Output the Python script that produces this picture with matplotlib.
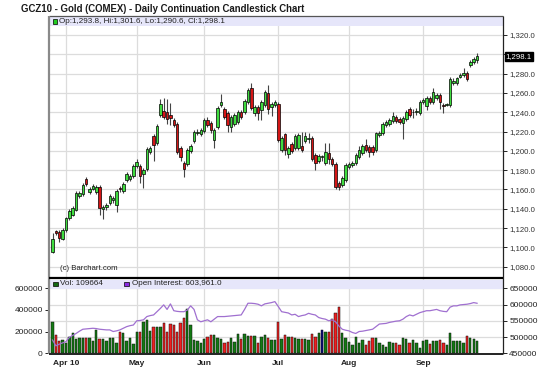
import matplotlib
matplotlib.use('Agg')
import matplotlib.pyplot as plt
from matplotlib.patches import Rectangle
import matplotlib.transforms as mtrans

plt.rcParams['font.family'] = ['Liberation Sans', 'DejaVu Sans']

# ---------------- data ----------------
opens = [1095, 1117, 1116, 1109, 1118, 1130, 1134, 1139, 1153, 1155,
         1171, 1157, 1160, 1157, 1163, 1140, 1142, 1146, 1149, 1144,
         1162, 1158, 1170, 1171, 1174, 1184, 1184, 1176, 1181, 1199,
         1215, 1208, 1237, 1241, 1240, 1237, 1232, 1228, 1203, 1187,
         1186, 1200, 1210, 1218, 1217, 1221, 1232, 1229, 1211, 1225,
         1247, 1243, 1239, 1225, 1228, 1230, 1240, 1240, 1251, 1265,
         1239, 1245, 1242, 1247, 1260, 1245, 1247, 1249, 1201, 1217,
         1197, 1207, 1203, 1203, 1205, 1210, 1212, 1213, 1196, 1189,
         1194, 1187, 1198, 1192, 1186, 1167, 1165, 1170, 1183, 1185,
         1187, 1194, 1198, 1206, 1204, 1204, 1201, 1216, 1218, 1227,
         1228, 1231, 1235, 1233, 1229, 1233, 1243, 1240, 1240, 1239,
         1251, 1246, 1255, 1251, 1255, 1258, 1247, 1248, 1247, 1270,
         1270, 1277, 1279, 1281, 1289, 1292, 1293.8]
highs = [1115, 1118, 1118, 1120, 1132, 1140, 1143, 1158, 1158, 1167,
         1173, 1163, 1166, 1165, 1165, 1144, 1146, 1155, 1153, 1160,
         1164, 1168, 1178, 1176, 1186, 1192, 1186, 1182, 1204, 1205,
         1217, 1228, 1254, 1255, 1254, 1250, 1234, 1230, 1205, 1189,
         1203, 1207, 1222, 1223, 1224, 1234, 1235, 1231, 1224, 1246,
         1259, 1245, 1241, 1237, 1239, 1242, 1242, 1254, 1265, 1270,
         1247, 1248, 1253, 1263, 1268, 1251, 1253, 1251, 1215, 1219,
         1205, 1209, 1217, 1218, 1220, 1220, 1218, 1215, 1198, 1197,
         1196, 1208, 1208, 1194, 1188, 1169, 1174, 1187, 1188, 1190,
         1198, 1205, 1207, 1212, 1206, 1206, 1220, 1221, 1230, 1232,
         1234, 1240, 1237, 1235, 1236, 1242, 1245, 1243, 1244, 1253,
         1255, 1257, 1257, 1265, 1260, 1260, 1250, 1250, 1276, 1275,
         1277, 1281, 1286, 1283, 1294, 1297, 1301.6]
lows = [1094, 1113, 1106, 1108, 1116, 1128, 1133, 1138, 1151, 1153,
        1164, 1155, 1159, 1155, 1134, 1129, 1139, 1144, 1146, 1137,
        1157, 1156, 1168, 1169, 1172, 1182, 1167, 1162, 1179, 1197,
        1190, 1206, 1235, 1233, 1228, 1227, 1225, 1197, 1190, 1173,
        1184, 1198, 1208, 1216, 1215, 1219, 1225, 1218, 1203, 1223,
        1245, 1233, 1220, 1220, 1226, 1228, 1233, 1238, 1249, 1242,
        1236, 1232, 1232, 1245, 1238, 1236, 1245, 1209, 1199, 1196,
        1193, 1198, 1201, 1201, 1199, 1208, 1208, 1190, 1180, 1187,
        1190, 1185, 1186, 1184, 1161, 1159, 1163, 1168, 1181, 1183,
        1185, 1192, 1196, 1199, 1194, 1196, 1199, 1214, 1216, 1225,
        1226, 1229, 1229, 1228, 1212, 1231, 1235, 1234, 1237, 1237,
        1249, 1242, 1249, 1249, 1253, 1243, 1239, 1246, 1245, 1268,
        1268, 1275, 1277, 1272, 1287, 1290, 1290.6]
closes = [1109, 1115, 1110, 1118, 1130, 1138, 1141, 1156, 1156, 1165,
          1166, 1161, 1164, 1163, 1141, 1142, 1144, 1153, 1151, 1158,
          1160, 1166, 1176, 1174, 1184, 1188, 1174, 1180, 1202, 1203,
          1206, 1226, 1249, 1235, 1233, 1234, 1227, 1199, 1194, 1181,
          1201, 1205, 1220, 1220, 1222, 1232, 1227, 1222, 1222, 1244,
          1251, 1235, 1227, 1235, 1237, 1240, 1235, 1252, 1263, 1244,
          1245, 1239, 1251, 1261, 1243, 1249, 1251, 1211, 1213, 1201,
          1203, 1200, 1215, 1216, 1201, 1215, 1213, 1192, 1187, 1195,
          1194, 1199, 1192, 1186, 1163, 1163, 1172, 1185, 1186, 1187,
          1196, 1201, 1205, 1201, 1199, 1199, 1218, 1219, 1228, 1230,
          1232, 1236, 1231, 1230, 1234, 1240, 1237, 1240.5, 1241, 1251,
          1253, 1255, 1251, 1261, 1258, 1251, 1246.5, 1248.5, 1274, 1272,
          1275, 1279, 1281, 1274, 1292.5, 1295, 1298.1]
volume = [292000, 169000, 117000, 123000, 92000, 154000, 185000, 129000, 145000, 138000,
          138000, 138000, 114000, 215000, 129000, 129000, 114000, 145000, 145000, 98000,
          200000, 185000, 117000, 138000, 86000, 200000, 200000, 292000, 308000, 206000,
          240000, 240000, 240000, 283000, 200000, 268000, 262000, 200000, 283000, 330000,
          406000, 262000, 123000, 117000, 98000, 129000, 154000, 169000, 169000, 138000,
          132000, 98000, 108000, 138000, 108000, 175000, 129000, 175000, 160000, 160000,
          160000, 98000, 154000, 169000, 140000, 123000, 123000, 292000, 129000, 169000,
          154000, 148000, 138000, 129000, 129000, 129000, 123000, 178000, 154000, 191000,
          215000, 200000, 200000, 314000, 375000, 431000, 191000, 138000, 108000, 77000,
          148000, 98000, 123000, 77000, 114000, 138000, 138000, 92000, 77000, 62000,
          108000, 98000, 92000, 77000, 145000, 129000, 98000, 123000, 92000, 46000,
          114000, 123000, 86000, 117000, 117000, 123000, 98000, 77000, 185000, 117000,
          114000, 114000, 98000, 160000, 138000, 132000, 109664]
open_interest = [491000, 473000, 478000, 482000, 486000, 499000, 505000, 511000, 518000, 524000,
                 525000, 526000, 527000, 526000, 524000, 523000, 522000, 522000, 517000, 519000,
                 522000, 527000, 532000, 535000, 537000, 550000, 551000, 553000, 563000, 566000,
                 568000, 578000, 588000, 599000, 585000, 602000, 581000, 579000, 578000, 578000,
                 583000, 596000, 585000, 553000, 547000, 550000, 553000, 547000, 555000, 563000,
                 563000, 563000, 564000, 565000, 566000, 567000, 568000, 585000, 604000, 604000,
                 603000, 601000, 596000, 602000, 604000, 606000, 609000, 594000, 578000, 576000,
                 574000, 568000, 570000, 563000, 566000, 568000, 573000, 570000, 568000, 560000,
                 557000, 555000, 550000, 553000, 547000, 534000, 524000, 521000, 519000, 514000,
                 511000, 517000, 518000, 520000, 522000, 524000, 532000, 540000, 541000, 542000,
                 545000, 547000, 549000, 550000, 555000, 563000, 568000, 565000, 570000, 575000,
                 578000, 581000, 581000, 583000, 585000, 581000, 579000, 578000, 592000, 596000,
                 596000, 599000, 600000, 601000, 603000, 606000, 603961]
month_labels = ['Apr 10', 'May', 'Jun', 'Jul', 'Aug', 'Sep']
month_index = [4, 25, 45, 67, 88, 110]
price_ticks = [1080, 1100, 1120, 1140, 1160, 1180, 1200, 1220, 1240, 1260, 1280, 1300, 1320]
vol_ticks = [0, 200000, 400000, 600000]
oi_ticks = [450000, 500000, 550000, 600000, 650000]
title = 'GCZ10 - Gold (COMEX) - Daily Continuation Candlestick Chart'

# ---------------- layout helpers ----------------
W, H = 550, 372
def fx(x): return x / W
def fy(y): return 1 - y / H

fig = plt.figure(figsize=(W / 100, H / 100), dpi=100)
fig.patch.set_facecolor('white')

L, R = 49, 503
ax = fig.add_axes([fx(L), fy(278), (R - L) / W, (278 - 16) / H])
axv = fig.add_axes([fx(L), fy(354), (R - L) / W, (354 - 278) / H])
axo = axv.twinx()

n = len(closes)
xs = list(range(n))
xlim = (-1.04, 133.7)

# ---------------- main candles ----------------
grid_c = '#dcdcdc'
for xi in month_index:
    ax.axvline(xi, color=grid_c, lw=0.9, zorder=0)
    axv.axvline(xi, color=grid_c, lw=0.9, zorder=0)
for p in price_ticks:
    ax.axhline(p, color=grid_c, lw=0.9, zorder=0)

up_c, dn_c = '#3fdc3f', '#d41616'
for i in xs:
    o, h, l, c = opens[i], highs[i], lows[i], closes[i]
    ax.vlines(i, l, h, color='#444444', lw=0.8, zorder=2)
    col = up_c if c >= o else dn_c
    bot = min(o, c)
    ht = max(abs(c - o), 0.6)
    ax.bar(i, ht, bottom=bot, width=0.74, color=col, edgecolor='black',
           linewidth=0.5, zorder=3)

ax.set_xlim(*xlim)
ax.set_ylim(1068.3, 1339.7)
ax.set_xticks(month_index)
ax.set_xticklabels([])
ax.tick_params(axis='x', length=0)
ax.yaxis.tick_right()
ax.set_yticks(price_ticks)
# the 1,300.0 label sits under the last-price tag, as in the reference
ax.set_yticklabels(['' if abs(p - closes[-1]) < 8 else f'{p:,.1f}' for p in price_ticks])
ax.tick_params(axis='y', length=3, width=0.6, colors='black', labelsize=5.6,
               labelcolor='#333333', pad=1.5)

for s in ax.spines.values():
    s.set_visible(False)

# legend band in price panel
ax.add_patch(Rectangle((0, (278 - 25.5) / 262), 1, 9.5 / 262, transform=ax.transAxes,
                       facecolor='#e6e6fa', edgecolor='none', zorder=4))
fig.patches.append(Rectangle((fx(52.5), fy(23.5)), 4.5 / W, 4.5 / H, transform=fig.transFigure,
                             facecolor='#22cc22', edgecolor='black', linewidth=0.5, figure=fig))
fig.text(fx(59), fy(21.2),
         f'Op:{opens[-1]:,.1f}, Hi:{highs[-1]:,.1f}, Lo:{lows[-1]:,.1f}, Cl:{closes[-1]:,.1f}',
         fontsize=5.9, va='center', ha='left', color='#222222')

# last price tag
tr = mtrans.blended_transform_factory(ax.transAxes, ax.transData)
ax.text(1.006, closes[-1], f'{closes[-1]:,.1f}', transform=tr, fontsize=5.6, color='white',
        va='center', ha='left', zorder=6,
        bbox=dict(boxstyle='square,pad=0.12', facecolor='black', edgecolor='black'))

ax.text(fx(60), fy(268), '(c) Barchart.com', transform=fig.transFigure, fontsize=5.6,
        color='#222222', va='center', ha='left')

# ---------------- volume / open interest ----------------
vol_cols = []
for i in xs:
    if closes[i] > opens[i]:
        vol_cols.append('#137a13')
    elif closes[i] < opens[i]:
        vol_cols.append('#ee2020')
    else:
        vol_cols.append('#0a0a80')
for g in [150000, 300000, 450000, 600000]:
    axv.axhline(g, color=grid_c, lw=0.9, zorder=0)
axv.bar(xs, volume, width=0.7, color=vol_cols, edgecolor='#111111', linewidth=0.35, zorder=2)
axv.set_xlim(*xlim)
axv.set_ylim(-6500, 695000)
axv.set_yticks(vol_ticks)
axv.set_yticklabels([str(v) for v in vol_ticks])
axv.tick_params(axis='y', length=3, width=0.6, labelsize=6, labelcolor='#222222', pad=1.5)
axv.set_xticks(month_index)
axv.set_xticklabels(month_labels, fontweight='bold', fontsize=6)
axv.tick_params(axis='x', length=0, pad=4, labelcolor='#222222')

axo.plot(xs, open_interest, color='#a070d0', lw=0.9, zorder=3)
axo.set_xlim(*xlim)
axo.set_ylim(447800, 681700)
axo.set_yticks(oi_ticks)
axo.set_yticklabels([str(v) for v in oi_ticks])
axo.tick_params(axis='y', length=3, width=0.6, labelsize=6, labelcolor='#222222', pad=1.5)

for a in (axv, axo):
    for s in a.spines.values():
        s.set_visible(False)

axo.add_patch(Rectangle((0, 1 - 10.5 / 76), 1, 9 / 76, transform=axo.transAxes,
                        facecolor='#e6e6fa', edgecolor='none', zorder=4))
fig.patches.append(Rectangle((fx(53), fy(286)), 4.5 / W, 4.5 / H, transform=fig.transFigure,
                             facecolor='#136613', edgecolor='black', linewidth=0.5, figure=fig))
fig.text(fx(60), fy(283.8), f'Vol: {volume[-1]}', fontsize=5.9, va='center', ha='left',
         color='#222222')
fig.patches.append(Rectangle((fx(124), fy(286)), 4.5 / W, 4.5 / H, transform=fig.transFigure,
                             facecolor='#8a2be2', edgecolor='black', linewidth=0.5, figure=fig))
fig.text(fx(131.5), fy(283.8), f'Open Interest: {open_interest[-1]:,.1f}', fontsize=5.9,
         va='center', ha='left', color='#222222')

# ---------------- frames ----------------
def line(x0, y0, x1, y1, color, lw):
    fig.add_artist(plt.Line2D([fx(x0), fx(x1)], [fy(y0), fy(y1)], transform=fig.transFigure,
                              color=color, lw=lw, solid_capstyle='butt', zorder=10))

line(L, 16, R, 16, '#555555', 0.9)          # top
line(R, 16, R, 354, '#222222', 0.9)         # right
line(L, 16, L, 354, '#8a8a8a', 1.6)         # left
line(L, 278, R + 0.4, 278, '#000000', 1.6)  # divider
line(L, 354, R + 0.4, 354, '#222222', 1.4)  # bottom

fig.text(fx(21), fy(9.5), title, fontsize=6.9, fontweight='bold', va='center', ha='left',
         color='#1a1a1a')

fig.savefig('out.png', dpi=100, facecolor='white')
